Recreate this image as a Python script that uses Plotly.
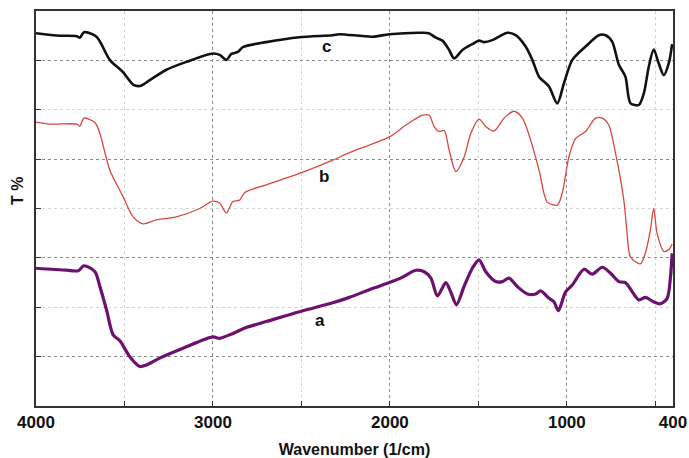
import plotly.graph_objects as go

# ---- data ----
wn_c = [4000, 3865, 3770, 3752, 3729, 3658, 3583, 3508, 3451, 3413, 3357, 3263, 3150, 3000, 2962,
        2924, 2896, 2859, 2831, 2699, 2511, 2323, 2286, 2098, 2003, 1816, 1780, 1740, 1703, 1665,
        1637, 1590, 1534, 1496, 1468, 1421, 1383, 1336, 1289, 1233, 1195, 1157, 1101, 1054, 1016,
        969, 894, 819, 781, 744, 706, 669, 640, 593, 565, 537, 509, 481, 452, 424, 405]
t_c = [75.5, 75.0, 74.9, 74.6, 75.7, 74.8, 70.1, 67.6, 65.1, 64.8, 66.0, 68.1, 69.7, 71.4, 71.1,
       70.1, 71.3, 71.7, 72.7, 73.7, 74.7, 75.1, 75.3, 74.8, 75.3, 75.6, 75.5, 74.6, 74.0, 72.1,
       70.4, 72.1, 73.3, 74.0, 73.7, 74.1, 74.8, 75.6, 75.1, 72.8, 70.1, 66.7, 64.7, 61.3, 65.4,
       70.1, 72.8, 75.1, 75.1, 73.8, 69.1, 66.7, 61.3, 61.0, 63.3, 68.7, 72.2, 69.4, 67.0, 69.4, 73.3]

wn_b = [4000, 3921, 3770, 3752, 3729, 3667, 3639, 3583, 3508, 3451, 3395, 3320, 3207, 3075, 3000,
        2962, 2924, 2887, 2849, 2821, 2699, 2511, 2323, 2229, 2098, 2003, 1909, 1816, 1778, 1750,
        1722, 1693, 1665, 1627, 1580, 1543, 1496, 1458, 1411, 1355, 1299, 1251, 1205, 1157, 1110,
        1054, 1026, 988, 950, 894, 838, 800, 763, 725, 678, 661, 640, 584, 556, 528, 509, 490,
        452, 420, 405]
t_b = [57.5, 57.1, 57.1, 56.7, 58.3, 57.4, 55.2, 47.8, 42.4, 38.3, 36.9, 37.7, 38.3, 40.0, 41.5,
       41.1, 39.1, 41.4, 41.7, 43.2, 44.8, 47.1, 49.8, 51.3, 53.1, 54.5, 56.9, 58.9, 58.9, 56.6,
       55.6, 55.8, 51.8, 47.5, 50.5, 55.2, 58.1, 56.6, 55.7, 58.3, 59.7, 58.3, 53.9, 47.8, 41.3,
       40.7, 43.1, 50.5, 54.2, 55.6, 58.3, 58.3, 56.9, 51.2, 41.7, 35.6, 30.2, 28.8, 31.0, 35.6,
       40.0, 35.0, 31.3, 31.8, 32.8]

wn_a = [4000, 3827, 3761, 3729, 3667, 3639, 3601, 3564, 3526, 3470, 3413, 3376, 3301, 3169, 3000,
        2962, 2887, 2812, 2699, 2511, 2323, 2229, 2098, 2003, 1928, 1853, 1806, 1768, 1731, 1684,
        1656, 1624, 1581, 1534, 1496, 1458, 1402, 1364, 1327, 1280, 1223, 1176, 1148, 1101, 1073,
        1048, 1007, 969, 903, 857, 800, 753, 706, 669, 593, 556, 509, 471, 433, 414, 405]
t_a = [27.9, 27.5, 27.4, 28.4, 27.2, 24.2, 19.4, 14.4, 13.2, 10.0, 8.0, 8.3, 9.7, 11.7, 14.0,
       13.7, 14.7, 15.9, 17.1, 19.1, 20.9, 22.0, 23.8, 25.0, 26.1, 27.5, 27.2, 25.9, 22.3, 25.0,
       23.1, 20.5, 24.2, 27.9, 29.6, 27.2, 25.2, 25.2, 25.9, 24.2, 22.7, 22.7, 23.3, 21.8, 21.1,
       19.3, 23.1, 24.5, 27.7, 26.7, 28.1, 26.9, 25.2, 25.0, 21.5, 22.0, 21.1, 20.7, 21.8, 26.2, 30.9]

x_ticks = [4000, 3000, 2000, 1000, 400]
x_minor = [3500, 2500, 1500, 500]
y_major = [10, 30, 50, 70]
y_minor = [20, 40, 60]

labels = ["c", "b", "a"]
label_wn = [2360, 2370, 2394]
label_t = [72.8, 46.4, 17.4]

FONT = "Liberation Sans, Arial, sans-serif"

fig = go.Figure()
fig.add_trace(go.Scatter(x=wn_c, y=t_c, mode="lines",
                         line=dict(color="#111111", width=2.6, shape="spline", smoothing=0.8)))
fig.add_trace(go.Scatter(x=wn_b, y=t_b, mode="lines",
                         line=dict(color="#d9473f", width=1.3, shape="spline", smoothing=0.8)))
fig.add_trace(go.Scatter(x=wn_a, y=t_a, mode="lines",
                         line=dict(color="#6c1170", width=3.2, shape="spline", smoothing=0.8)))

for txt, xx, yy in zip(labels, label_wn, label_t):
    fig.add_annotation(x=xx, y=yy, text=txt, showarrow=False,
                       font=dict(family=FONT, size=17, color="#111111", weight="bold"))

fig.add_annotation(xref="paper", yref="paper", x=-0.028, y=0.545, text="T %", textangle=-90,
                   showarrow=False, xanchor="center", yanchor="middle",
                   font=dict(family=FONT, size=16, color="#111111", weight="bold"))

fig.update_layout(
    width=689, height=458,
    margin=dict(l=36, r=16, t=11, b=52, autoexpand=False),
    paper_bgcolor="white", plot_bgcolor="white",
    showlegend=False,
    xaxis=dict(
        range=[4000, 400], tickvals=x_ticks, ticktext=[str(v) for v in x_ticks],
        automargin=False,
        showgrid=True, gridcolor="#8a8a8a", griddash="dot", gridwidth=1.2,
        ticks="inside", ticklen=5, tickcolor="#333333",
        showline=True, linecolor="#333333", linewidth=1.6, mirror=True,
        tickfont=dict(family=FONT, size=17, color="#111111", weight="bold"),
        zeroline=False,
        minor=dict(tickvals=x_minor, ticks="inside", ticklen=5, tickcolor="#333333",
                   showgrid=True, gridcolor="#d4d4d4", griddash="dot", gridwidth=1),
        title=dict(text="Wavenumber (1/cm)", standoff=16,
                   font=dict(family=FONT, size=16, color="#111111", weight="bold")),
    ),
    yaxis=dict(
        range=[0, 80], tickvals=y_major, showticklabels=False,
        automargin=False,
        showgrid=True, gridcolor="#8a8a8a", griddash="dot", gridwidth=1.2,
        ticks="inside", ticklen=5, tickcolor="#333333",
        showline=True, linecolor="#333333", linewidth=1.6, mirror=True,
        zeroline=False,
        minor=dict(tickvals=y_minor, ticks="inside", ticklen=5, tickcolor="#333333",
                   showgrid=True, gridcolor="#d4d4d4", griddash="dot", gridwidth=1),
    ),
)

fig.write_html("out.html")
